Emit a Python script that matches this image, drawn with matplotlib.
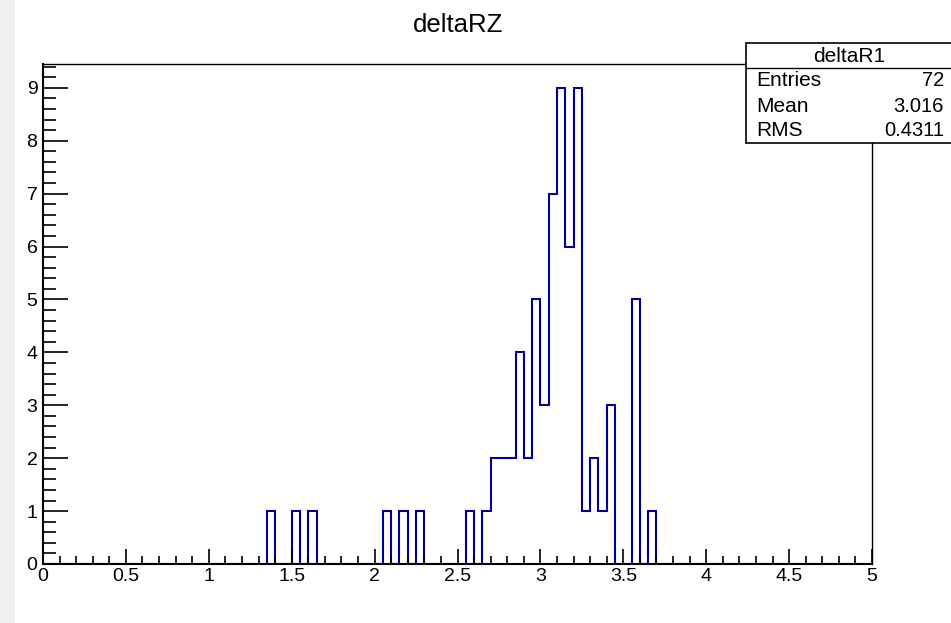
import numpy as np
import matplotlib
matplotlib.use("Agg")
import matplotlib.pyplot as plt
from matplotlib.ticker import MultipleLocator
from matplotlib.patches import Rectangle
from matplotlib.lines import Line2D

plt.rcParams['font.family'] = ['Liberation Sans', 'DejaVu Sans']

# histogram contents: lower edge of each filled bin (bin width 0.05) and its count
bin_low = [1.35, 1.50, 1.60, 2.05, 2.15, 2.25, 2.55, 2.65, 2.70, 2.75, 2.80, 2.85,
           2.90, 2.95, 3.00, 3.05, 3.10, 3.15, 3.20, 3.25, 3.30, 3.35, 3.40, 3.55, 3.65]
counts = [1, 1, 1, 1, 1, 1, 1, 1, 2, 2, 2, 4,
          2, 5, 3, 7, 9, 6, 9, 1, 2, 1, 3, 5, 1]

hist_name = "deltaR1"
title = "deltaRZ"
stat_labels = ["Entries", "Mean", "RMS"]
stat_values = ["72", "3.016", "0.4311"]

nbins, xmin, xmax = 100, 0.0, 5.0
edges = np.linspace(xmin, xmax, nbins + 1)
h = np.zeros(nbins)
for lo, c in zip(bin_low, counts):
    h[int(round((lo - xmin) / 0.05))] = c

fig = plt.figure(figsize=(9.51, 6.23), dpi=100)
fig.patch.set_facecolor('white')

# light gray strip on the left edge of the screenshot
fig.patches.append(Rectangle((0, 0), 15 / 951, 1, transform=fig.transFigure,
                             facecolor='#f0f0f0', edgecolor='none', zorder=0))

ax = fig.add_axes([43 / 951, 1 - 564 / 623, (872 - 43) / 951, (564 - 64) / 623])
ax.stairs(h, edges, color='#000099', linewidth=1.5, baseline=0)

ax.set_xlim(xmin, xmax)
ax.set_ylim(0, 9.45)

ax.xaxis.set_major_locator(MultipleLocator(0.5))
ax.xaxis.set_minor_locator(MultipleLocator(0.1))
ax.yaxis.set_major_locator(MultipleLocator(1))
ax.yaxis.set_minor_locator(MultipleLocator(0.2))
ax.set_xticklabels([f"{v:g}" for v in ax.get_xticks()])

ax.tick_params(axis='x', which='major', direction='in', length=11, width=1.2,
               labelsize=14, pad=3, top=False)
ax.tick_params(axis='x', which='minor', direction='in', length=6, width=1.2, top=False)
ax.tick_params(axis='y', which='major', direction='in', length=18, width=1.2,
               labelsize=14, pad=4, right=False)
ax.tick_params(axis='y', which='minor', direction='in', length=9, width=1.2, right=False)
for s in ax.spines.values():
    s.set_linewidth(1.0)
ax.spines['bottom'].set_linewidth(1.5)
ax.spines['left'].set_linewidth(1.5)

fig.text(458 / 951, 1 - 25 / 623, title, ha='center', va='center', fontsize=18.5)

# stats box
bx0, by0 = 746 / 951, 1 - 143 / 623
fig.patches.append(Rectangle((bx0, by0), 1 - bx0 + 0.01, (143 - 43) / 623,
                             transform=fig.transFigure, facecolor='white',
                             edgecolor='black', linewidth=1.2, zorder=5))
fig.lines.append(Line2D([bx0, 1], [1 - 68 / 623] * 2, transform=fig.transFigure,
                        color='black', linewidth=1, zorder=6))
fig.text(849 / 951, 1 - 56 / 623, hist_name, ha='center', va='center',
         fontsize=15, zorder=7)
for i, (lab, val) in enumerate(zip(stat_labels, stat_values)):
    y = 1 - (81 + 25 * i) / 623
    fig.text(756 / 951, y, lab, ha='left', va='center', fontsize=15, zorder=7)
    fig.text(944 / 951, y, val, ha='right', va='center', fontsize=14.5, zorder=7)

fig.savefig("out.png", dpi=100)
